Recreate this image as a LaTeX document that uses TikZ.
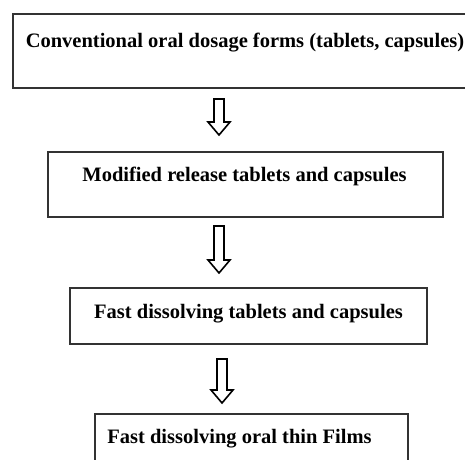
\documentclass[tikz,border=0pt]{standalone}
\usepackage{fontspec}
\setmainfont{Liberation Serif}
\begin{document}
\begin{tikzpicture}[x=1pt,y=-1pt,
  box/.style={draw=black!80,line width=1.3pt,rectangle,inner sep=0pt},
  lbl/.style={font=\fontsize{20.5}{24}\selectfont\bfseries,inner sep=0pt,anchor=base},
  blockarrow/.pic={\draw[line width=1.6pt,line join=miter]
     (-5,0) -- (5,0) -- (5,{#1-13}) -- (11,{#1-13}) -- (0,#1) -- (-11,{#1-13}) -- (-5,{#1-13}) -- cycle;}]
\useasboundingbox (0,0) rectangle (465,459);
\clip (0,0) rectangle (465,459);
\node[box,minimum width=460pt,minimum height=74pt] (b1) at (243,51) {};
\node[box,minimum width=395pt,minimum height=65pt] (b2) at (245.5,184.5) {};
\node[box,minimum width=357pt,minimum height=56pt] (b3) at (248.5,316) {};
\node[box,minimum width=313pt,minimum height=60pt] (b4) at (251.5,444) {};
\node[lbl] (t1) at (245,47) {Conventional oral dosage forms (tablets, capsules)};
\node[lbl] (t2) at (244.5,181) {Modified release tablets and capsules};
\node[lbl] (t3) at (248.5,318) {Fast dissolving tablets and capsules};
\node[lbl] (t4) at (239.5,443) {Fast dissolving oral thin Films};
\coordinate (a1) at (219,99);
\coordinate (a2) at (219,226);
\coordinate (a3) at (222,359);
\pic at (a1) {blockarrow=36};
\pic at (a2) {blockarrow=47};
\pic at (a3) {blockarrow=44};
\end{tikzpicture}
\end{document}
